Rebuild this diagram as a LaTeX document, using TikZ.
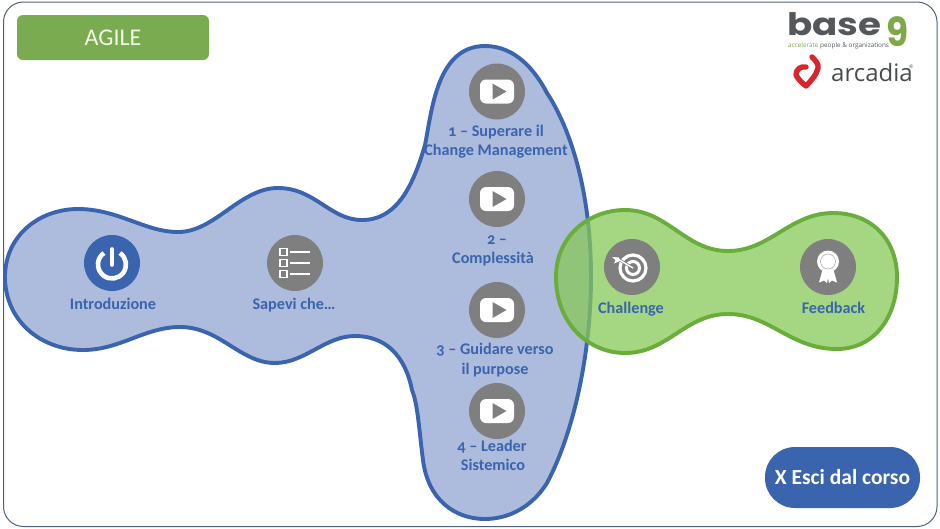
\documentclass[tikz,border=0pt]{standalone}
\usepackage{fontspec}
\usetikzlibrary{calc}
\setmainfont[Numbers=OldStyle]{Carlito}
\newfontfamily\logofont[FakeStretch=1.2]{Poppins}
\newfontfamily\ninefont[FakeStretch=0.9]{Poppins}
\newfontfamily\arcfont{Open Sans}
\definecolor{bluedark}{HTML}{3A64AD}
\definecolor{bluefill}{HTML}{ADBBDD}
\definecolor{greenline}{HTML}{69AD3A}
\definecolor{greenfill}{HTML}{87C858}
\definecolor{greybg}{HTML}{7F7F7F}
\definecolor{agilegreen}{HTML}{7BAB50}
\definecolor{framecol}{HTML}{4A6378}
\definecolor{logogrey}{HTML}{55585A}
\definecolor{logogreen}{HTML}{7FA84A}
\definecolor{arcred}{HTML}{D8262F}
\definecolor{cream}{HTML}{F4F8E6}
\tikzset{
  disc/.style={circle,minimum size=56pt,inner sep=0pt,fill=greybg},
  label text/.style={text=bluedark,font=\bfseries\fontsize{16.2}{19}\selectfont,inner sep=0pt,align=center,text height=12pt,text depth=2pt},
  play/.pic={
    \fill[white,rounded corners=6pt] (-17,-12) rectangle (17,12);
    \fill[greybg] (-4.5,-8) -- (9.5,0) -- (-4.5,8) -- cycle;
  }
}
\begin{document}
\begin{tikzpicture}[x=1pt,y=-1pt]
\useasboundingbox (0,0) rectangle (940,528);
\draw[framecol,line width=1pt,rounded corners=20pt] (3.5,2) rectangle (937,526.5);

% blue shape
\draw[bluedark,fill=bluefill,line width=3.9pt]
 (5,277) .. controls (5,235) and (40,209) .. (78,209)
 .. controls (118,209) and (145,232) .. (178,232)
 .. controls (215,232) and (240,188) .. (278,188)
 .. controls (315,188) and (330,220) .. (362,220)
 .. controls (395,220) and (412,190) .. (425,145)
 .. controls (432,110) and (437,46) .. (485,46)
 .. controls (515,46) and (535,70) .. (547,93)
 .. controls (570,128) and (591,190) .. (591,277)
 .. controls (591,350) and (575,430) .. (547,483)
 .. controls (530,510) and (505,519) .. (485,519)
 .. controls (455,519) and (428,500) .. (423,460)
 .. controls (419,430) and (418,405) .. (412,390)
 .. controls (405,355) and (385,336) .. (355,336)
 .. controls (325,336) and (305,363) .. (275,363)
 .. controls (240,363) and (220,327) .. (180,327)
 .. controls (145,327) and (120,350) .. (83,350)
 .. controls (40,350) and (5,320) .. (5,277) -- cycle;

% green shape
\draw[greenline,fill=greenfill,fill opacity=0.75,line width=3.9pt]
 (556,277) .. controls (556,235) and (590,210) .. (625,210)
 .. controls (668,210) and (685,251) .. (728,251)
 .. controls (770,251) and (790,213) .. (833,213)
 .. controls (872,213) and (897,240) .. (897,277)
 .. controls (897,320) and (872,349) .. (837,349)
 .. controls (790,349) and (770,314) .. (728,314)
 .. controls (685,314) and (668,353) .. (625,353)
 .. controls (590,353) and (556,325) .. (556,277) -- cycle;

% title
\node[rounded corners=6pt,fill=agilegreen,minimum width=192pt,minimum height=45pt,inner sep=0pt,text=cream,font=\fontsize{24}{26}\selectfont] (agile) at (113,37.5) {AGILE};

% exit button
\node[rounded corners=30pt,fill=bluedark,minimum width=155pt,minimum height=61pt,inner sep=0pt,text=white,font=\bfseries\fontsize{21.5}{24}\selectfont] (exit) at (842.5,477.5) {X Esci dal corso};

% discs
\node[disc,fill=bluedark] (intro) at (112,263) {};
\node[disc] (sapevi) at (295,263) {};
\node[disc] (v1) at (497,91.5) {};
\node[disc] (v2) at (497,199) {};
\node[disc] (v3) at (497,310) {};
\node[disc] (v4) at (497,411) {};
\node[disc] (chal) at (632,267) {};
\node[disc] (feed) at (828,267) {};

\foreach \n in {v1,v2,v3,v4} \pic at (\n) {play};

% power icon
\draw[white,line width=4.6pt] ($(intro)+(8,-10)$) arc[start angle=55,end angle=-235,radius=14pt];
\draw[white,line width=3.6pt,line cap=round] ($(intro)+(0,-14)$) -- ($(intro)+(0,2)$);

% list icon
\foreach \dy in {-11,0,11}{
  \draw[white,line width=1.6pt] ($(sapevi)+(-15,\dy-3.5)$) rectangle ($(sapevi)+(-8,\dy+3.5)$);
  \draw[white,line width=1.4pt] ($(sapevi)+(-5,\dy)$) -- ($(sapevi)+(15,\dy)$);
}

% target icon
\draw[white,line width=3.2pt] ($(chal)+(1,1)$) circle[radius=13pt];
\draw[white,line width=3pt] ($(chal)+(1,1)$) circle[radius=6.5pt];
\draw[greybg,line width=2.6pt] ($(chal)+(1,1)$) -- ($(chal)+(-14,-8)$);
\draw[white,line width=1.4pt] ($(chal)+(1,1)$) -- ($(chal)+(-15,-8.5)$);
\fill[white] ($(chal)+(-13,-9.5)$) -- ($(chal)+(-20,-10)$) -- ($(chal)+(-16.5,-7)$) -- ($(chal)+(-18,-3.5)$) -- ($(chal)+(-12,-6)$) -- cycle;

% medal icon
\fill[white] ($(feed)+(-5,1)$) -- ($(feed)+(-9,15.5)$) -- ($(feed)+(-4,13.5)$) -- ($(feed)+(-1,16)$) -- ($(feed)+(1,6)$) -- cycle;
\fill[white] ($(feed)+(5,1)$) -- ($(feed)+(9,15.5)$) -- ($(feed)+(4,13.5)$) -- ($(feed)+(1,16)$) -- ($(feed)+(-1,6)$) -- cycle;
\fill[white] ($(feed)+(0,-5.5)$) circle[radius=11pt];
\draw[greybg!60,line width=0.6pt,fill=white] ($(feed)+(0,-5.5)$) circle[radius=7.5pt];

% labels
\node[label text] (lintro) at (113,304) {Introduzione};
\node[label text] (lsap) at (294,304) {Sapevi che…};
\node[label text] (lchal) at (631,308) {Challenge};
\node[label text] (lfeed) at (833.5,308) {Feedback};
\node[label text] (l1a) at (496,131) {1 – Superare il};
\node[label text] (l1b) at (496,150) {Change Management};
\node[label text] (l2a) at (497,239) {2 –};
\node[label text] (l2b) at (493,258) {Complessità};
\node[label text] (l3a) at (495,349.5) {3 – Guidare verso};
\node[label text] (l3b) at (495,369.5) {il purpose};
\node[label text] (l4a) at (492,446) {4 – Leader};
\node[label text] (l4b) at (493,465) {Sistemico};

% logos
\node[anchor=base west,inner sep=0pt,text=logogrey,font=\logofont\bfseries\fontsize{31}{31}\selectfont] (base) at (787,35.5) {base};
\node[anchor=base west,inner sep=0pt,text=logogreen,font=\ninefont\bfseries\fontsize{40}{40}\selectfont] (nine) at (886,46) {9};
\node[anchor=base west,inner sep=0pt,font=\arcfont\fontsize{6.4}{8}\selectfont] (tag) at (788,47.5) {\textcolor{logogreen}{accelerate} \textcolor{logogrey}{people \& organizations}};

\draw[arcred,line width=5.4pt,line cap=round,line join=round] (812,57) .. controls (815,60) and (819,64) .. (818,68) .. controls (817,74) and (811,81) .. (806,86) .. controls (802,83) and (798,79) .. (796,75) .. controls (796,69) and (801,66) .. (806,67);
\node[anchor=base west,inner sep=0pt,text=logogrey!85!black,font=\arcfont\fontsize{24}{24}\selectfont] (arc) at (831,81) {arcadia};
\node[anchor=base west,inner sep=0pt,text=logogrey,font=\arcfont\fontsize{5}{5}\selectfont] (reg) at (909,68) {®};
\end{tikzpicture}
\end{document}
